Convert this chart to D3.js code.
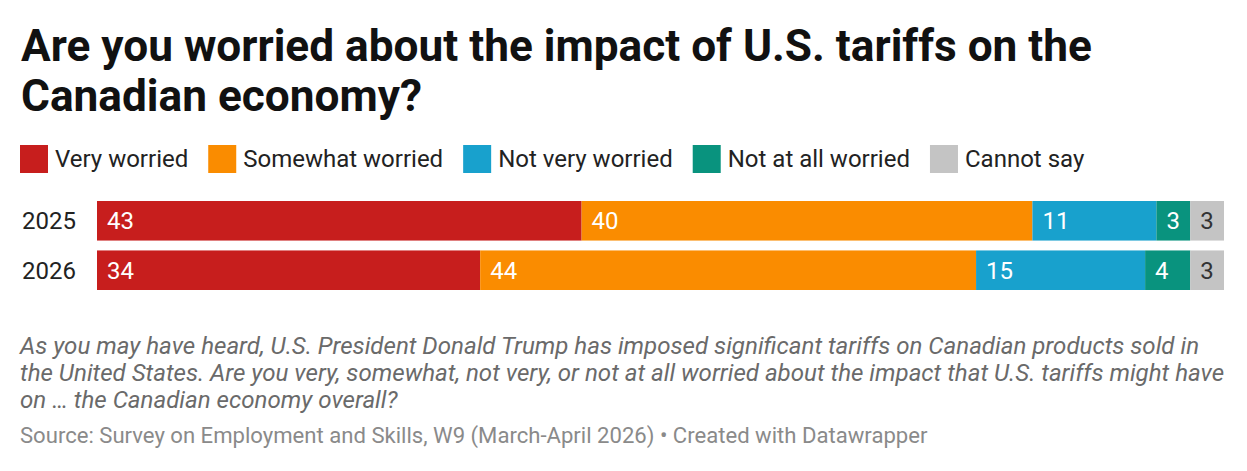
<!DOCTYPE html>
<html>
<head>
<meta charset="utf-8">
<script src="https://cdn.jsdelivr.net/npm/d3@7"></script>
<style>
  body { margin: 0; background: #fff; font-family: Roboto, sans-serif; }
  svg { display: block; }
</style>
</head>
<body>
<svg id="chart"></svg>
<script>
// Data
const years = ['2025', '2026'];
const categories = ['Very worried', 'Somewhat worried', 'Not very worried', 'Not at all worried', 'Cannot say'];
const colors = ['#c71e1d', '#fa8c00', '#18a1cd', '#09937e', '#c4c4c4'];
const values2025 = [43, 40, 11, 3, 3];
const values2026 = [34, 44, 15, 4, 3];
const seriesValues = [values2025, values2026];

const titleLines = ['Are you worried about the impact of U.S. tariffs on the', 'Canadian economy?'];
const noteLines = [
  'As you may have heard, U.S. President Donald Trump has imposed significant tariffs on Canadian products sold in',
  'the United States. Are you very, somewhat, not very, or not at all worried about the impact that U.S. tariffs might have',
  'on \u2026 the Canadian economy overall?'
];
const sourceText = 'Source: Survey on Employment and Skills, W9 (March-April 2026) \u2022 Created with Datawrapper';

const W = 1247, H = 471;
const svg = d3.select('#chart').attr('width', W).attr('height', H);

// Title
svg.append('g').selectAll('text')
  .data(titleLines)
  .join('text')
    .attr('x', 21)
    .attr('y', (d, i) => 61 + i * 50)
    .attr('font-size', 44.2)
    .attr('font-weight', 700)
    .attr('fill', '#111')
    .text(d => d);

// Legend
const legend = svg.append('g').attr('transform', 'translate(20,0)');
let lx = 0;
categories.forEach((c, i) => {
  const item = legend.append('g').attr('transform', `translate(${lx},0)`);
  item.append('rect')
    .attr('x', 0).attr('y', 145)
    .attr('width', 28).attr('height', 28)
    .attr('fill', colors[i]);
  const t = item.append('text')
    .attr('x', 35).attr('y', 167)
    .attr('font-size', 24)
    .attr('fill', '#222')
    .text(c);
  lx += 35 + t.node().getComputedTextLength() + 20;
});

// Stacked bars
const margin = { left: 97, right: 23 };
const x = d3.scaleLinear().domain([0, 100]).range([margin.left, W - margin.right]);
const y = d3.scaleBand().domain(years).range([201, 290]).paddingInner(0.2);

const rows = years.map((yr, i) => {
  let acc = 0;
  return seriesValues[i].map((v, j) => {
    const seg = { year: yr, cat: j, value: v, x0: acc, x1: acc + v };
    acc += v;
    return seg;
  });
});

const chart = svg.append('g');

chart.selectAll('.yr')
  .data(years)
  .join('text')
    .attr('class', 'yr')
    .attr('x', 22)
    .attr('y', d => y(d) + y.bandwidth() / 2 + 8.5)
    .attr('font-size', 24)
    .attr('fill', '#222')
    .text(d => d);

const segs = rows.flat();

chart.selectAll('.seg')
  .data(segs)
  .join('rect')
    .attr('class', 'seg')
    .attr('x', d => x(d.x0))
    .attr('y', d => y(d.year))
    .attr('width', d => x(d.x1) - x(d.x0))
    .attr('height', y.bandwidth())
    .attr('fill', d => colors[d.cat]);

chart.selectAll('.val')
  .data(segs)
  .join('text')
    .attr('class', 'val')
    .attr('x', d => x(d.x0) + 10)
    .attr('y', d => y(d.year) + y.bandwidth() / 2 + 8.5)
    .attr('font-size', 24)
    .attr('fill', d => d.cat === 4 ? '#333' : '#fff')
    .text(d => d.value);

// Notes
svg.append('g').selectAll('text')
  .data(noteLines)
  .join('text')
    .attr('x', 20)
    .attr('y', (d, i) => 354 + i * 27)
    .attr('font-size', 24.1)
    .attr('font-style', 'italic')
    .attr('fill', '#6a6a6a')
    .text(d => d);

svg.append('text')
  .attr('x', 20)
  .attr('y', 443)
  .attr('font-size', 22.1)
  .attr('fill', '#8a8a8a')
  .text(sourceText);
</script>
</body>
</html>
